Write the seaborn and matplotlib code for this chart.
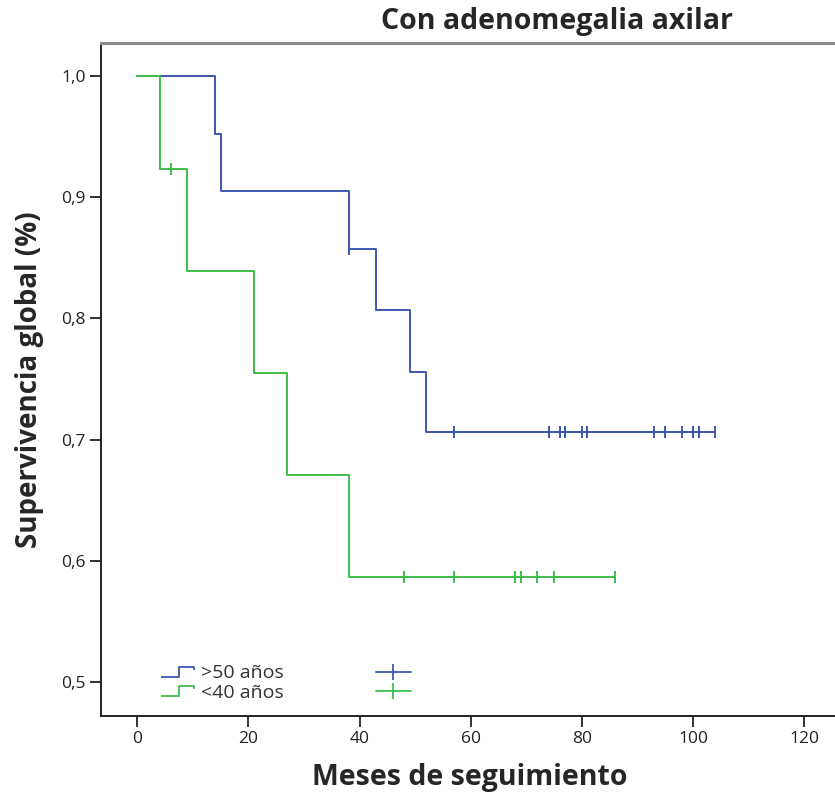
import numpy as np
import pandas as pd
import seaborn as sns
import matplotlib
matplotlib.use("Agg")
import matplotlib.pyplot as plt
from matplotlib.lines import Line2D
from matplotlib.path import Path

# ---- data ----
groups = [">50 años", "<40 años"]
# step curve: times and survival values after each step
t_old = [0, 14, 15, 38, 43, 49, 52, 104]
s_old = [1.0, 0.952, 0.905, 0.857, 0.807, 0.756, 0.706, 0.706]
cens_old = [38, 57, 74, 76, 77, 80, 81, 93, 95, 98, 100, 101, 104]
cens_old_s = [0.857, 0.706, 0.706, 0.706, 0.706, 0.706, 0.706, 0.706, 0.706, 0.706, 0.706, 0.706, 0.706]

t_young = [0, 4, 9, 21, 27, 38, 86]
s_young = [1.0, 0.923, 0.839, 0.755, 0.671, 0.587, 0.587]
cens_young = [6, 48, 57, 68, 69, 72, 75, 86]
cens_young_s = [0.923, 0.587, 0.587, 0.587, 0.587, 0.587, 0.587, 0.587]

xticks = [0, 20, 40, 60, 80, 100, 120]
yticks = [0.5, 0.6, 0.7, 0.8, 0.9, 1.0]
ytick_labels = ["0,5", "0,6", "0,7", "0,8", "0,9", "1,0"]

title = "Con adenomegalia axilar"
xlabel = "Meses de seguimiento"
ylabel = "Supervivencia global (%)"

colors = {">50 años": "#3d58b4", "<40 años": "#3cbf4c"}

curves = pd.concat([
    pd.DataFrame({"t": t_old, "s": s_old, "g": groups[0]}),
    pd.DataFrame({"t": t_young, "s": s_young, "g": groups[1]}),
], ignore_index=True)
cens = pd.concat([
    pd.DataFrame({"t": cens_old, "s": cens_old_s, "g": groups[0]}),
    pd.DataFrame({"t": cens_young, "s": cens_young_s, "g": groups[1]}),
], ignore_index=True)

sns.set_style("white")
plt.rcParams["font.family"] = ["Open Sans", "DejaVu Sans"]

W, H = 835, 801
fig = plt.figure(figsize=(W / 100, H / 100), dpi=100)
ax_left, ax_right = 100.7, 843.0
ax_top, ax_bot = 43.0, 716.0
ax = fig.add_axes([ax_left / W, 1 - ax_bot / H, (ax_right - ax_left) / W, (ax_bot - ax_top) / H])

for g in groups:
    d = curves[curves.g == g]
    sns.lineplot(data=d, x="t", y="s", ax=ax, color=colors[g], drawstyle="steps-post",
                 linewidth=1.4, sort=False, estimator=None, legend=False)
    c = cens[cens.g == g]
    sns.scatterplot(data=c, x="t", y="s", ax=ax, color=colors[g], marker="|", s=75,
                    linewidth=1.4, legend=False)

ax.set_xlim(-6.6, 127)
ax.set_ylim(0.472, 1.027)
ax.set_xticks(xticks)
ax.set_xticklabels([str(v) for v in xticks], fontsize=12.5, color="#222222")
ax.set_yticks(yticks)
ax.set_yticklabels(ytick_labels, fontsize=12.5, color="#222222")
ax.tick_params(axis="both", which="major", direction="out", length=8, width=1.3,
               color="#222222", bottom=True, left=True, pad=3)
for side in ["left", "bottom"]:
    ax.spines[side].set_color("#222222")
    ax.spines[side].set_linewidth(1.4)
ax.spines["top"].set_color("#8c8c8c")
ax.spines["top"].set_linewidth(2.2)
ax.spines["right"].set_visible(False)
ax.set_xlabel("")
ax.set_ylabel("")

fig.text(557 / W, 1 - 22 / H, title, ha="center", va="center", fontsize=20.5, fontweight="bold")
fig.text(470 / W, 1 - 777 / H, xlabel, ha="center", va="center", fontsize=20.5, fontweight="bold")
fig.text(30 / W, 1 - 380 / H, ylabel, ha="center", va="center", fontsize=20,
         fontweight="bold", rotation=90)

# legend
step_path = Path([(-1.0, -0.28), (0.05, -0.28), (0.05, 0.28), (0.95, 0.28), (0.95, 0.12)])
handles = []
for g in groups:
    handles.append(Line2D([], [], linestyle="none", marker=step_path, markersize=25,
                          markerfacecolor="none", markeredgecolor=colors[g], markeredgewidth=1.3))
for g in groups:
    handles.append(Line2D([], [], color=colors[g], linewidth=1.3, marker="|",
                          markersize=12, markeredgewidth=1.3))
labels = groups + ["", ""]
leg = ax.legend(handles, labels, ncol=2, loc="lower left", bbox_to_anchor=(0.057, -0.005),
                frameon=False, fontsize=14, handlelength=1.8, handletextpad=0.26,
                columnspacing=4.75, labelspacing=0.08)
for t in leg.get_texts():
    t.set_color("#333333")

fig.savefig("out.png", dpi=100)
